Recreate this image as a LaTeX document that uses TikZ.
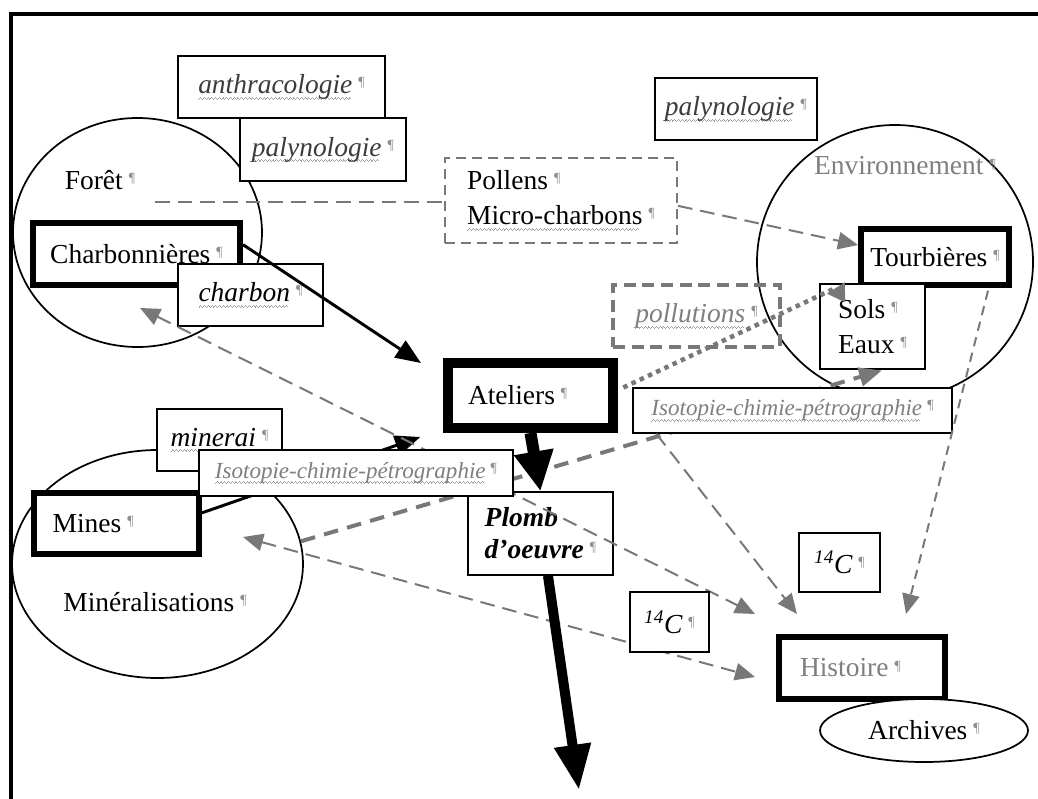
\documentclass[tikz,border=0pt]{standalone}
\usepackage{fontspec}
\setmainfont{Liberation Serif}
\usetikzlibrary{arrows.meta, shapes.geometric, positioning}

\definecolor{txtgray}{HTML}{7F7F7F}
\definecolor{darkgray}{HTML}{3C3C3C}
\definecolor{arrgray}{HTML}{787878}
\definecolor{pilgray}{HTML}{8E8E8E}
\definecolor{sqgray}{HTML}{A0A0A0}

\newcommand{\pil}{\hspace{0.22em}\raisebox{0.55ex}{\fontsize{10.5}{10}\selectfont\color{pilgray}\upshape\mdseries ¶}}
\newcommand{\wv}{\rule[-4.3pt]{0.7pt}{0.5pt}\rule[-3.6pt]{0.7pt}{0.5pt}\rule[-2.9pt]{0.7pt}{0.5pt}\rule[-3.6pt]{0.7pt}{0.5pt}}
\newcommand{\sq}[1]{\setbox0\hbox{#1}\rlap{\hbox to \wd0{\color{sqgray}\leaders\hbox{\wv}\hfill}}#1}
\newcommand{\nf}{\fontsize{20.6}{26}\selectfont}
\newcommand{\smf}{\fontsize{17.3}{20}\selectfont}

\begin{document}
\begin{tikzpicture}[x=0.75pt,y=-0.75pt,font=\nf,>={Triangle[length=15pt,width=13pt]}]
    \tikzstyle{every node}=[inner sep=0pt]
    \tikzstyle{lbl}=[draw,fill=white,line width=1.1pt]
    \tikzstyle{heavy}=[lbl,line width=4.5pt]
    \tikzstyle{zone}=[ellipse,draw,line width=1.3pt]
    \tikzstyle{gline}=[draw=arrgray,line width=1.5pt,dash pattern=on 11pt off 6pt]
    \tikzstyle{barrow}=[line width=2.2pt,-{Triangle[length=19pt,width=15pt]}]

    \useasboundingbox (0,0) rectangle (1038,799);
    \clip (0,0) rectangle (1038,799);
    \draw[line width=3pt] (10.7,900) |- (1100,13.7);

    \node[zone,minimum width=186.75pt,minimum height=171.75pt] (foret) at (137.5,232.5) {};
    \node[zone,minimum width=207pt,minimum height=205.5pt] (env) at (895,262) {};
    \node[zone,minimum width=218.25pt,minimum height=171pt] (mineral) at (157.5,564) {};

    \node (foretlbl) at (100,180) {Forêt\pil};
    \node[text=txtgray] (envlbl) at (905,166) {Environnement\pil};
    \node (minlbl) at (155,602) {Minéralisations\pil};

    \coordinate (fo) at (155,202);
    \coordinate (fo2) at (140,308);
    \coordinate (mi) at (243,537);
    \coordinate (pout) at (579,790);

    \node[lbl,minimum width=155.25pt,minimum height=46.5pt,text=darkgray] (anthra) at (281.5,87) {\itshape\sq{anthracologie}\pil};
    \node[lbl,minimum width=124.5pt,minimum height=47.25pt,text=darkgray] (palyl) at (323,149.5) {\itshape\sq{palynologie}\pil};
    \node[heavy,minimum width=155.25pt,minimum height=46.5pt] (charb) at (136.5,254) {Charbonnières\pil};
    \node[lbl,minimum width=108.75pt,minimum height=46.5pt] (charbon) at (250.5,295) {\itshape\sq{charbon}\pil};
    \node[lbl,draw=arrgray,line width=1.5pt,dash pattern=on 7.5pt off 4.5pt,align=left,minimum width=174pt,minimum height=63.75pt] (pollens) at (561,200.5) {Pollens\pil\\\sq{Micro-charbons}\pil};
    \node[lbl,minimum width=121.5pt,minimum height=46.5pt,text=darkgray] (palyr) at (736,109) {\itshape\sq{palynologie}\pil};
    \node[heavy,minimum width=111pt,minimum height=42pt] (tourb) at (935,257) {Tourbières\pil};
    \node[lbl,line width=2.2pt,align=left,minimum width=78.75pt,minimum height=63.75pt] (sols) at (872.5,326.5) {Sols\pil\\Eaux\pil};
    \node[draw=arrgray,line width=2.6pt,dash pattern=on 9pt off 5pt,minimum width=125.25pt,minimum height=46.5pt,text=txtgray] (pollu) at (696.5,316) {\itshape\sq{pollutions}\pil};
    \node[lbl,line width=7.5pt,inner xsep=15pt,text width=93.75pt,minimum height=48.75pt] (atel) at (530.5,395.5) {Ateliers\pil};
    \node[lbl,align=left,font={\fontsize{20.6}{24}\selectfont\bfseries\itshape},minimum width=108.75pt,minimum height=62.25pt] (plomb) at (540.5,533.5) {Plomb\\d’oeuvre\pil};
    \node[heavy,inner xsep=14pt,text width=95.75pt,minimum height=45.75pt] (mines) at (116.5,523.5) {Mines\pil};
    \node[heavy,inner xsep=15.75pt,text width=93pt,minimum height=46.5pt,text=txtgray] (hist) at (862,668) {Histoire\pil};
    \node[zone,fill=white,minimum width=156pt,minimum height=47.25pt] (archives) at (924,730.5) {Archives\pil};
    \node[lbl,minimum width=60.75pt,minimum height=44.25pt] (ctopa) at (839.5,562.5) {\itshape\textsuperscript{14}C\pil};

    \draw[barrow] ([yshift=8pt]mines.east) -- ([xshift=-17pt,yshift=-3pt]atel.south west);
    \draw[draw=arrgray,line width=3pt,dash pattern=on 11pt off 7pt,-{Triangle[length=17pt,width=14pt]}] (mineral.9) -- ([xshift=7pt]sols.south);
    \draw[gline,<->] (fo2) -- ([xshift=-15.75pt,yshift=15pt]hist.north west);
    \draw[gline,<->] (mi) -- ([xshift=-15.75pt,yshift=-6.75pt]hist.west);

    \node[lbl,minimum width=93.75pt,minimum height=46.5pt] (minerai) at (219.5,440) {\itshape\sq{minerai}\pil};
    \node[lbl,font=\smf,minimum width=235.5pt,minimum height=34.5pt,text=txtgray] (isol) at (356,473) {\itshape\sq{Isotopie-chimie-pétrographie}\pil};
    \node[lbl,font=\smf,minimum width=239.25pt,minimum height=33.75pt,text=txtgray] (isor) at (792.5,410.5) {\itshape\sq{Isotopie-chimie-pétrographie}\pil};
    \node[lbl,minimum width=59.25pt,minimum height=45pt] (ctopb) at (669.5,622) {\itshape\textsuperscript{14}C\pil};

    \draw[gline] (fo) -- (fo -| pollens.west);
    \draw[gline,->] ([yshift=-4pt]pollens.east) -- ([yshift=9pt]tourb.west);
    \draw[barrow] ([yshift=7pt]charb.east) -- ([xshift=-16.5pt,yshift=-3.75pt]atel.north west);
    \draw[gline,->] ([xshift=18pt]isor.south west) -- ([xshift=15.75pt,yshift=15pt]hist.north west);
    \draw[gline,->,dash pattern=on 7pt off 5pt] ([xshift=-18pt,yshift=-2pt]tourb.south east) -- ([xshift=-31.5pt,yshift=15pt]hist.north east);
    \draw[draw=arrgray,line width=3.4pt,dash pattern=on 3.4pt off 3.4pt,-{Triangle[length=13pt,width=15pt]}] ([xshift=4pt,yshift=6pt]atel.east) -- ([xshift=13pt,yshift=-4pt]sols.north west) -- ([xshift=20pt,yshift=-15pt]sols.north west);
    \draw[line width=9pt,-{Triangle[length=30pt,width=28pt]}] (atel.south) -- (plomb.north);
    \draw[line width=7.5pt,-{Triangle[length=34pt,width=26pt]}] ([xshift=5.6pt]plomb.south) -- (pout);
\end{tikzpicture}
\end{document}
